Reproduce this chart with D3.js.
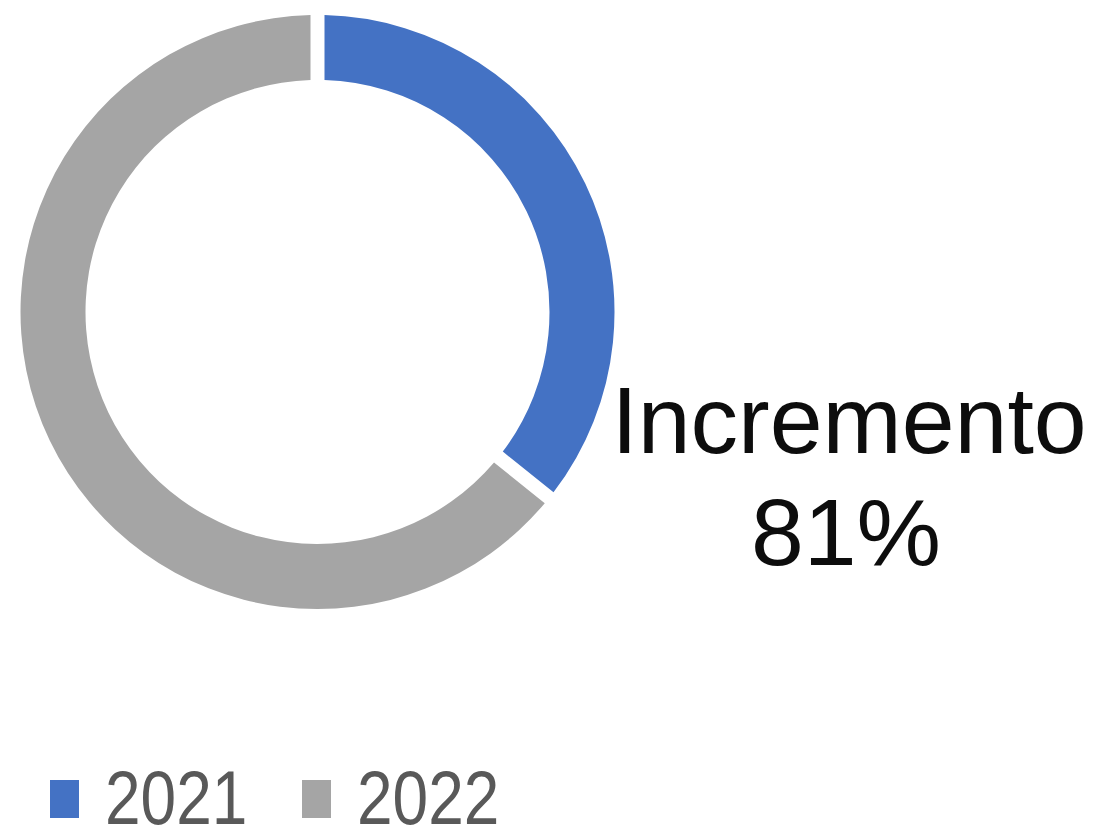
<!DOCTYPE html>
<html>
<head>
<meta charset="utf-8">
<script src="https://cdn.jsdelivr.net/npm/d3@7"></script>
<style>
  html, body { margin: 0; padding: 0; background: #fff; }
  svg { display: block; }
</style>
</head>
<body>
<svg id="chart"></svg>
<script>
// data
const years = ["2021", "2022"];
const values = [100, 181];
const colors = ["#4472C4", "#A5A5A5"];
const labelTitle = "Incremento";

const width = 1100;
const height = 840;
const cx = 317.5, cy = 312;
const outerR = 297, innerR = 232;

const svg = d3.select("#chart")
    .attr("width", width)
    .attr("height", height);

const color = d3.scaleOrdinal().domain(years).range(colors);

const pie = d3.pie()
    .value(d => d.value)
    .sort(null)
    .padAngle(14 / Math.sqrt(outerR * outerR + innerR * innerR));

const arc = d3.arc()
    .innerRadius(innerR)
    .outerRadius(outerR);

const slices = years.map((y, i) => ({ year: y, value: values[i] }));

const g = svg.append("g")
    .attr("transform", `translate(${cx},${cy})`);

g.selectAll("path")
    .data(pie(slices))
    .enter()
    .append("path")
    .attr("d", arc)
    .attr("fill", d => color(d.data.year));

// increment label
const inc = Math.round((values[1] - values[0]) / values[0] * 100);
const lbl = svg.append("text")
    .attr("text-anchor", "middle")
    .style("font-family", "'Liberation Sans', Arial, sans-serif")
    .style("font-size", "95px")
    .style("fill", "#0d0d0d");

lbl.append("tspan").attr("x", 849).attr("y", 453).text(labelTitle);
lbl.append("tspan").attr("x", 846).attr("y", 565).text(`${inc}%`);

// legend (kept just above the bottom edge so the descent is not clipped)
const legendX = [50, 302];
const legendBase = 824;
years.forEach((y, i) => {
    svg.append("rect")
        .attr("x", legendX[i])
        .attr("y", legendBase - 44)
        .attr("width", 29)
        .attr("height", 38)
        .attr("fill", color(y));

    svg.append("text")
        .attr("transform", `translate(${legendX[i] + 55},${legendBase}) scale(1,1.2)`)
        .style("font-family", "'Liberation Sans', Arial, sans-serif")
        .style("font-size", "64px")
        .style("fill", "#595959")
        .text(y);
});
</script>
</body>
</html>
